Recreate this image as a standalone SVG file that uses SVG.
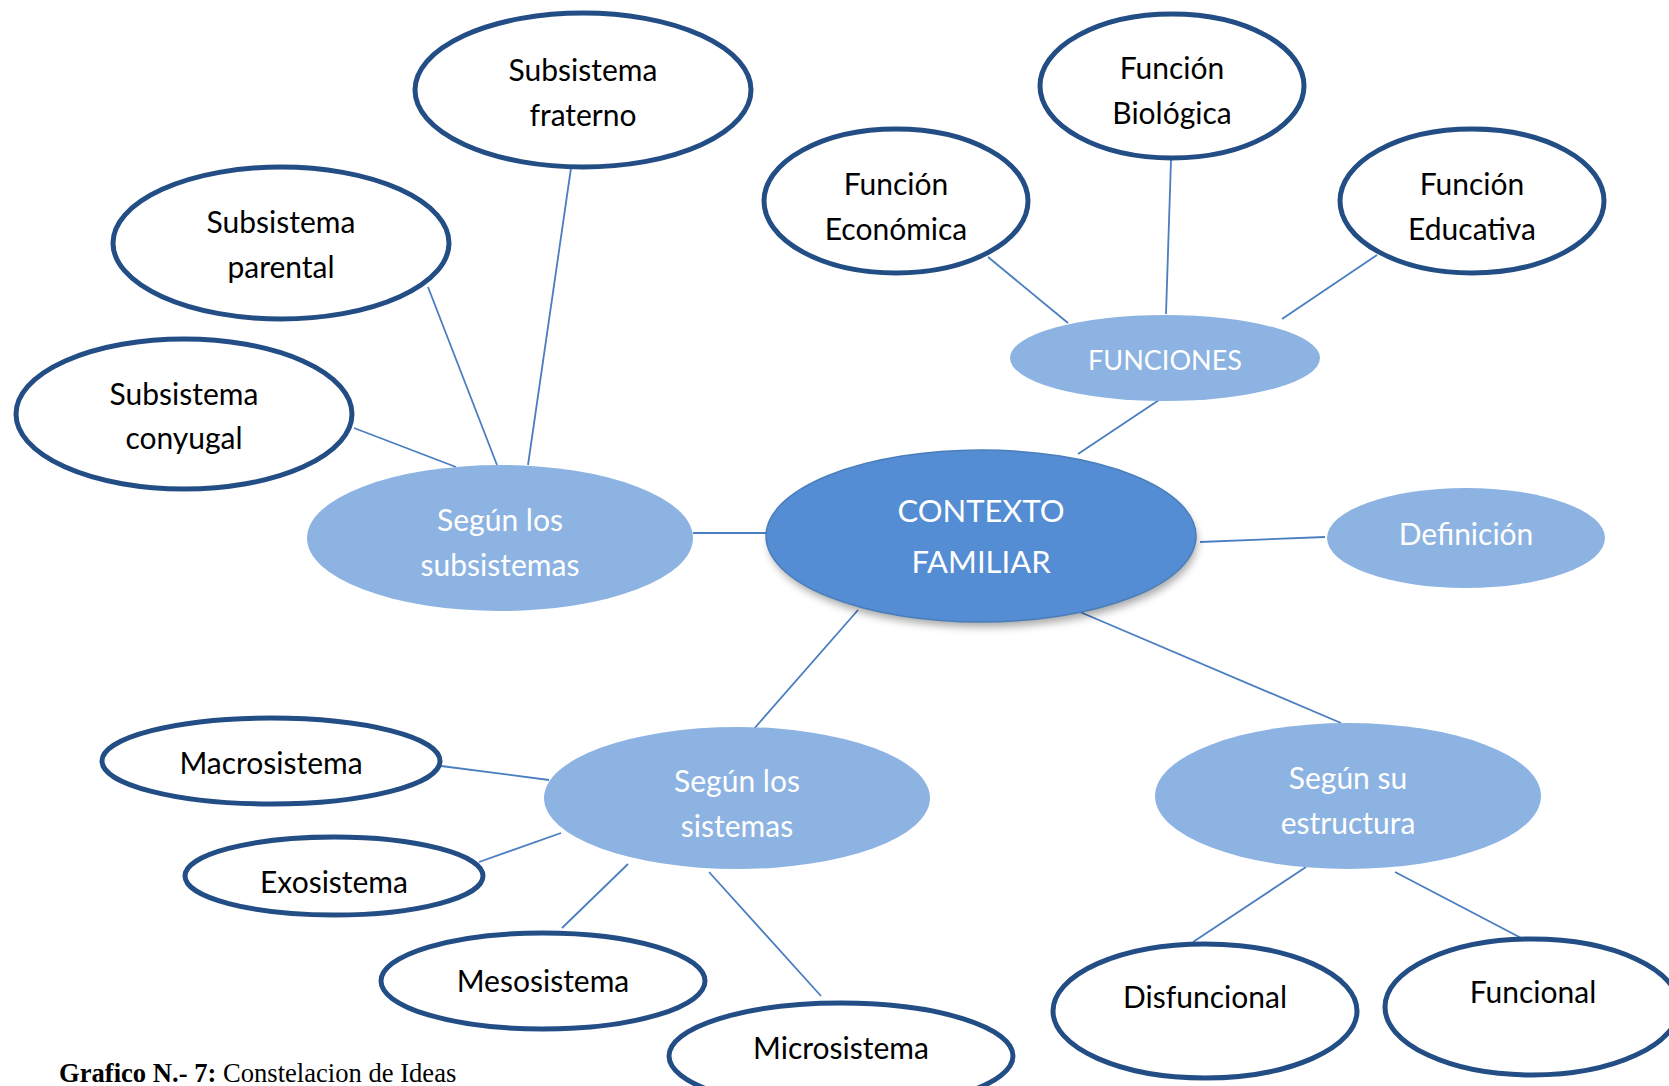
<svg xmlns="http://www.w3.org/2000/svg" width="1669" height="1086" viewBox="0 0 1669 1086">
<defs>
<style>
.leaf{fill:#fff;stroke:#234D85;stroke-width:5}
.mid{fill:#8DB3E2;stroke:none}
.core{fill:#548DD4;stroke:#4A7EBB;stroke-width:1.5}
.t{font-family:Lato,"Open Sans",sans-serif;font-size:30px;text-anchor:middle;fill:#000}
.w{fill:#fff}
.big{font-size:31px}
.caps{font-size:27px}
.conn line{stroke:#4A7EC0;stroke-width:1.8}
.cap{font-family:"Liberation Serif","Times New Roman",serif;font-size:26.6px;fill:#000}
</style>
<filter id="sh" x="-20%" y="-20%" width="140%" height="150%">
<feGaussianBlur stdDeviation="4"/>
</filter>
</defs>
<rect width="1669" height="1086" fill="#fff"/>
<g id="connectors" class="conn">
<line x1="693" y1="533" x2="766" y2="533"/>
<line x1="354" y1="428" x2="456" y2="467"/>
<line x1="428" y1="287" x2="497" y2="465"/>
<line x1="571" y1="168" x2="528" y2="465"/>
<line x1="1078" y1="454" x2="1165" y2="396"/>
<line x1="988" y1="257" x2="1068" y2="323"/>
<line x1="1171" y1="160" x2="1166" y2="314"/>
<line x1="1377" y1="255" x2="1282" y2="319"/>
<line x1="1200" y1="542" x2="1325" y2="537"/>
<line x1="858" y1="610" x2="753" y2="730"/>
<line x1="1080" y1="612" x2="1341" y2="723"/>
<line x1="441" y1="766" x2="549" y2="780"/>
<line x1="479" y1="862" x2="561" y2="833"/>
<line x1="562" y1="928" x2="628" y2="864"/>
<line x1="709" y1="872" x2="821" y2="996"/>
<line x1="1306" y1="867" x2="1193" y2="942"/>
<line x1="1395" y1="872" x2="1525" y2="940"/>
</g>
<g id="contexto">
<ellipse cx="983" cy="542" rx="214" ry="85" fill="#000" opacity="0.35" filter="url(#sh)"/>
<ellipse class="core" cx="981" cy="536" rx="215" ry="86"/>
<text class="t w big" x="981" y="522">CONTEXTO</text>
<text class="t w big" x="981" y="573">FAMILIAR</text>
</g>
<g id="subsistemas">
<ellipse class="mid" cx="500" cy="538" rx="193" ry="73"/>
<text class="t w" x="500" y="531">Según los</text>
<text class="t w" x="500" y="576">subsistemas</text>
</g>
<g id="fraterno">
<ellipse class="leaf" cx="583" cy="90" rx="168" ry="77"/>
<text class="t" x="583" y="81">Subsistema</text>
<text class="t" x="583" y="126">fraterno</text>
</g>
<g id="parental">
<ellipse class="leaf" cx="281" cy="243" rx="168" ry="76"/>
<text class="t" x="281" y="233">Subsistema</text>
<text class="t" x="281" y="278">parental</text>
</g>
<g id="conyugal">
<ellipse class="leaf" cx="184" cy="414" rx="168" ry="75"/>
<text class="t" x="184" y="405">Subsistema</text>
<text class="t" x="184" y="449">conyugal</text>
</g>
<g id="funciones">
<ellipse class="mid" cx="1165" cy="358" rx="155" ry="43"/>
<text class="t w caps" x="1165" y="370">FUNCIONES</text>
</g>
<g id="economica">
<ellipse class="leaf" cx="896" cy="201" rx="132" ry="72"/>
<text class="t" x="896" y="195">Función</text>
<text class="t" x="896" y="240">Económica</text>
</g>
<g id="biologica">
<ellipse class="leaf" cx="1172" cy="86" rx="132" ry="72"/>
<text class="t" x="1172" y="79">Función</text>
<text class="t" x="1172" y="124">Biológica</text>
</g>
<g id="educativa">
<ellipse class="leaf" cx="1472" cy="201" rx="132" ry="72"/>
<text class="t" x="1472" y="195">Función</text>
<text class="t" x="1472" y="240">Educativa</text>
</g>
<g id="definicion">
<ellipse class="mid" cx="1466" cy="538" rx="139" ry="50"/>
<text class="t w" x="1466" y="545">Definición</text>
</g>
<g id="sistemas">
<ellipse class="mid" cx="737" cy="798" rx="193" ry="71"/>
<text class="t w" x="737" y="792">Según los</text>
<text class="t w" x="737" y="837">sistemas</text>
</g>
<g id="estructura">
<ellipse class="mid" cx="1348" cy="796" rx="193" ry="73"/>
<text class="t w" x="1348" y="789">Según su</text>
<text class="t w" x="1348" y="834">estructura</text>
</g>
<g id="macrosistema">
<ellipse class="leaf" cx="271" cy="761" rx="169" ry="43"/>
<text class="t" x="271" y="774">Macrosistema</text>
</g>
<g id="exosistema">
<ellipse class="leaf" cx="334" cy="876" rx="149" ry="39"/>
<text class="t" x="334" y="893">Exosistema</text>
</g>
<g id="mesosistema">
<ellipse class="leaf" cx="543" cy="981" rx="162" ry="48"/>
<text class="t" x="543" y="992">Mesosistema</text>
</g>
<g id="microsistema">
<ellipse class="leaf" cx="841" cy="1056" rx="172" ry="53"/>
<text class="t" x="841" y="1059">Microsistema</text>
</g>
<g id="disfuncional">
<ellipse class="leaf" cx="1205" cy="1011" rx="152" ry="67"/>
<text class="t" x="1205" y="1008">Disfuncional</text>
</g>
<g id="funcional">
<ellipse class="leaf" cx="1532" cy="1007" rx="147" ry="68"/>
<text class="t" x="1533" y="1003">Funcional</text>
</g>
<text class="cap" x="59" y="1082"><tspan font-weight="bold">Grafico N.- 7:</tspan> Constelacion de Ideas</text>
</svg>
